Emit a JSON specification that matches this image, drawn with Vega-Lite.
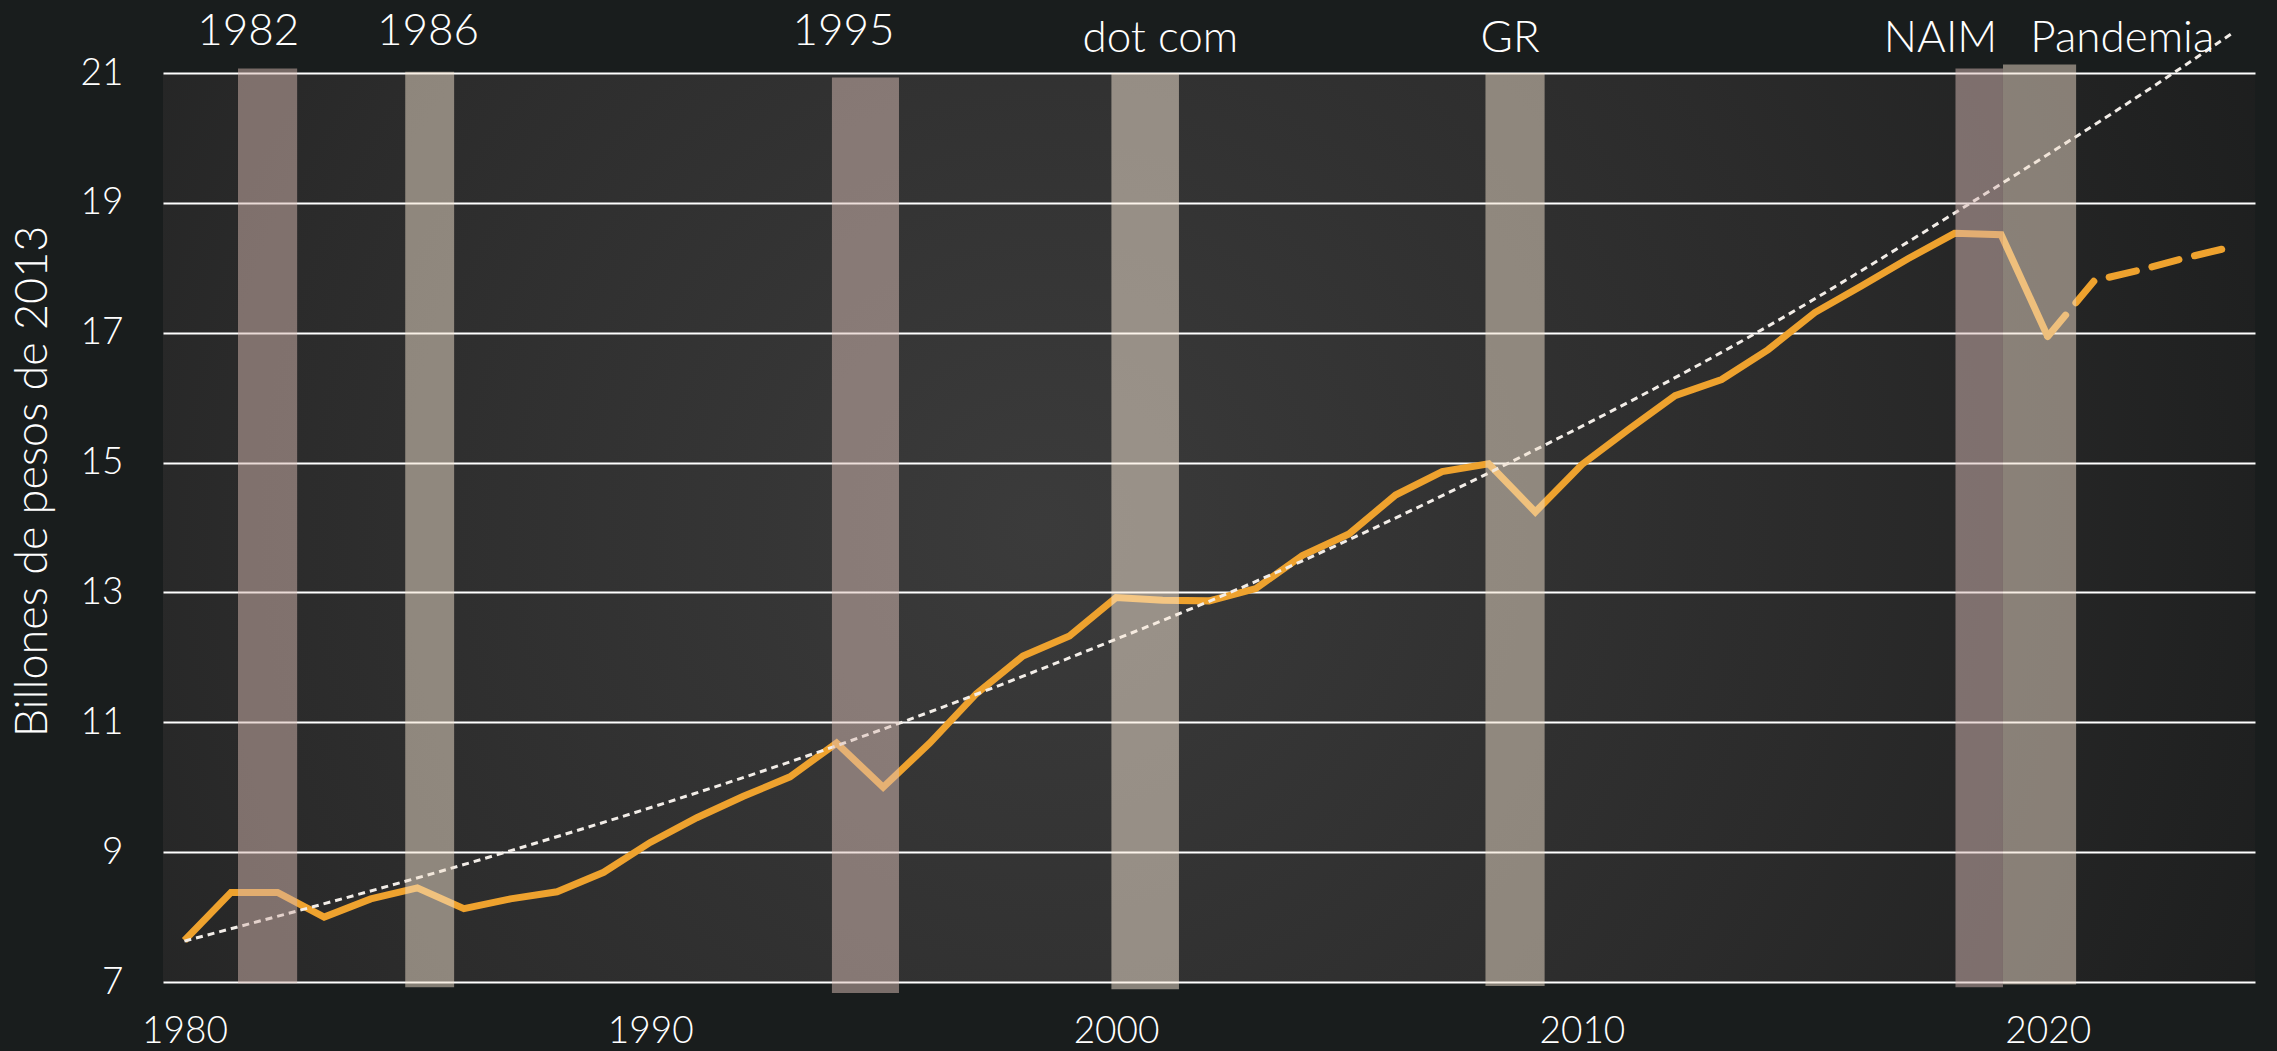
{
  "$schema": "https://vega.github.io/schema/vega-lite/v6.json",
  "width": 2092,
  "height": 909,
  "autosize": {"type": "none"},
  "padding": {"left": 163, "top": 73, "right": 22, "bottom": 69},
  "background": "#191d1d",
  "config": {
    "view": {
      "stroke": null,
      "fill": {
        "gradient": "radial",
        "x1": 0.42, "y1": 0.5, "r1": 0,
        "x2": 0.42, "y2": 0.5, "r2": 0.75,
        "stops": [
          {"offset": 0, "color": "#3b3b3b"},
          {"offset": 0.5, "color": "#2b2b2b"},
          {"offset": 1, "color": "#161818"}
        ]
      }
    },
    "font": "Lato"
  },
  "datasets": {
    "pib": [
      {"anio": 1980, "valor": 7.64, "serie": "observado"},
      {"anio": 1981, "valor": 8.38, "serie": "observado"},
      {"anio": 1982, "valor": 8.38, "serie": "observado"},
      {"anio": 1983, "valor": 8.0, "serie": "observado"},
      {"anio": 1984, "valor": 8.28, "serie": "observado"},
      {"anio": 1985, "valor": 8.45, "serie": "observado"},
      {"anio": 1986, "valor": 8.13, "serie": "observado"},
      {"anio": 1987, "valor": 8.28, "serie": "observado"},
      {"anio": 1988, "valor": 8.39, "serie": "observado"},
      {"anio": 1989, "valor": 8.69, "serie": "observado"},
      {"anio": 1990, "valor": 9.15, "serie": "observado"},
      {"anio": 1991, "valor": 9.53, "serie": "observado"},
      {"anio": 1992, "valor": 9.86, "serie": "observado"},
      {"anio": 1993, "valor": 10.16, "serie": "observado"},
      {"anio": 1994, "valor": 10.68, "serie": "observado"},
      {"anio": 1995, "valor": 10.0, "serie": "observado"},
      {"anio": 1996, "valor": 10.68, "serie": "observado"},
      {"anio": 1997, "valor": 11.44, "serie": "observado"},
      {"anio": 1998, "valor": 12.02, "serie": "observado"},
      {"anio": 1999, "valor": 12.33, "serie": "observado"},
      {"anio": 2000, "valor": 12.92, "serie": "observado"},
      {"anio": 2001, "valor": 12.88, "serie": "observado"},
      {"anio": 2002, "valor": 12.87, "serie": "observado"},
      {"anio": 2003, "valor": 13.06, "serie": "observado"},
      {"anio": 2004, "valor": 13.57, "serie": "observado"},
      {"anio": 2005, "valor": 13.9, "serie": "observado"},
      {"anio": 2006, "valor": 14.5, "serie": "observado"},
      {"anio": 2007, "valor": 14.86, "serie": "observado"},
      {"anio": 2008, "valor": 14.98, "serie": "observado"},
      {"anio": 2009, "valor": 14.24, "serie": "observado"},
      {"anio": 2010, "valor": 14.97, "serie": "observado"},
      {"anio": 2011, "valor": 15.51, "serie": "observado"},
      {"anio": 2012, "valor": 16.03, "serie": "observado"},
      {"anio": 2013, "valor": 16.28, "serie": "observado"},
      {"anio": 2014, "valor": 16.74, "serie": "observado"},
      {"anio": 2015, "valor": 17.31, "serie": "observado"},
      {"anio": 2016, "valor": 17.72, "serie": "observado"},
      {"anio": 2017, "valor": 18.14, "serie": "observado"},
      {"anio": 2018, "valor": 18.53, "serie": "observado"},
      {"anio": 2019, "valor": 18.51, "serie": "observado"},
      {"anio": 2020, "valor": 16.94, "serie": "observado"},
      {"anio": 2020, "valor": 16.94, "serie": "pronostico"},
      {"anio": 2021, "valor": 17.8, "serie": "pronostico"},
      {"anio": 2022, "valor": 17.97, "serie": "pronostico"},
      {"anio": 2023, "valor": 18.16, "serie": "pronostico"},
      {"anio": 2024, "valor": 18.33, "serie": "pronostico"}
    ],
    "tendencia": [
      {"anio": 1980, "valor": 7.63},
      {"anio": 1986.9, "valor": 9.0},
      {"anio": 1995.4, "valor": 11.0},
      {"anio": 2000, "valor": 12.28},
      {"anio": 2002.45, "valor": 13.0},
      {"anio": 2008.45, "valor": 15.0},
      {"anio": 2013.75, "valor": 17.0},
      {"anio": 2018.35, "valor": 19.0},
      {"anio": 2022.7, "valor": 21.0},
      {"anio": 2024, "valor": 21.63}
    ],
    "recesiones": [
      {"evento": "1982", "inicio": 1981.15, "fin": 1982.42, "piso": 6.98, "techo": 21.07, "etiqueta_x": 1981.37, "grupo": "alto"},
      {"evento": "1986", "inicio": 1984.74, "fin": 1985.79, "piso": 6.92, "techo": 21.02, "etiqueta_x": 1985.23, "grupo": "alto"},
      {"evento": "1995", "inicio": 1993.9, "fin": 1995.34, "piso": 6.83, "techo": 20.93, "etiqueta_x": 1994.15, "grupo": "alto"},
      {"evento": "dot com", "inicio": 1999.9, "fin": 2001.35, "piso": 6.89, "techo": 21.0, "etiqueta_x": 2000.95, "grupo": "bajo"},
      {"evento": "GR", "inicio": 2007.93, "fin": 2009.2, "piso": 6.94, "techo": 21.0, "etiqueta_x": 2008.46, "grupo": "bajo"},
      {"evento": "NAIM", "inicio": 2018.02, "fin": 2019.04, "piso": 6.92, "techo": 21.07, "etiqueta_x": 2017.7, "grupo": "bajo"},
      {"evento": "Pandemia", "inicio": 2019.04, "fin": 2020.61, "piso": 6.96, "techo": 21.13, "etiqueta_x": 2021.6, "grupo": "bajo"}
    ]
  },
  "layer": [
    {
      "data": {"name": "pib"},
      "transform": [{"filter": "datum.serie == 'observado'"}],
      "mark": {"type": "line", "color": "#eea22e", "strokeWidth": 7},
      "encoding": {
        "x": {
          "field": "anio", "type": "quantitative",
          "scale": {"domain": [1979.54, 2024.45], "nice": false, "zero": false},
          "axis": {
            "values": [1980, 1990, 2000, 2010, 2020], "format": "d", "title": null,
            "grid": false, "domain": false, "ticks": false,
            "labelFontSize": 37, "labelColor": "#ffffff", "labelFont": "Lato", "labelFontWeight": 300,
            "labelPadding": 31, "labelFlush": false
          }
        },
        "y": {
          "field": "valor", "type": "quantitative",
          "scale": {"domain": [7, 21], "nice": false, "zero": false},
          "axis": {
            "values": [7, 9, 11, 13, 15, 17, 19, 21], "format": "d",
            "title": "Billones de pesos de 2013",
            "titleFontSize": 45, "titleColor": "#ffffff", "titleFont": "Lato", "titleFontWeight": 300,
            "titleAngle": -90, "titleBaseline": "middle", "titleAlign": "center",
            "titleX": -131, "titleY": 408,
            "grid": true, "gridColor": "#ffffff", "gridWidth": 2, "gridOpacity": 1,
            "domain": false, "ticks": false,
            "labelFontSize": 37, "labelColor": "#ffffff", "labelFont": "Lato", "labelFontWeight": 300,
            "labelPadding": 40
          }
        }
      }
    },
    {
      "data": {"name": "pib"},
      "transform": [{"filter": "datum.serie == 'pronostico'"}],
      "mark": {"type": "line", "color": "#eea22e", "strokeWidth": 7, "strokeDash": [28, 16], "strokeCap": "round"},
      "encoding": {
        "x": {"field": "anio", "type": "quantitative"},
        "y": {"field": "valor", "type": "quantitative"}
      }
    },
    {
      "data": {"name": "tendencia"},
      "mark": {"type": "line", "color": "#f2ede8", "strokeWidth": 3, "strokeDash": [7, 5], "interpolate": "monotone"},
      "encoding": {
        "x": {"field": "anio", "type": "quantitative"},
        "y": {"field": "valor", "type": "quantitative"}
      }
    },
    {
      "data": {"name": "recesiones"},
      "mark": {"type": "rect", "opacity": 0.5},
      "encoding": {
        "x": {"field": "inicio", "type": "quantitative"},
        "x2": {"field": "fin"},
        "y": {"field": "piso", "type": "quantitative"},
        "y2": {"field": "techo"},
        "color": {
          "field": "evento", "type": "nominal", "legend": null,
          "scale": {
            "domain": ["1982", "1986", "1995", "dot com", "GR", "NAIM", "Pandemia"],
            "range": ["#d6b8b0", "#f2e2ce", "#dcc0b8", "#f9e9d7", "#f0e0cc", "#d7b9b5", "#eddcc9"]
          }
        }
      }
    },
    {
      "data": {"name": "recesiones"},
      "transform": [{"filter": "datum.grupo == 'alto'"}],
      "mark": {"type": "text", "color": "#ffffff", "fontSize": 44, "font": "Lato", "fontWeight": 300, "baseline": "alphabetic", "align": "center"},
      "encoding": {
        "x": {"field": "etiqueta_x", "type": "quantitative"},
        "y": {"datum": 21.43},
        "text": {"field": "evento"}
      }
    },
    {
      "data": {"name": "recesiones"},
      "transform": [{"filter": "datum.grupo == 'bajo'"}],
      "mark": {"type": "text", "color": "#ffffff", "fontSize": 44, "font": "Lato", "fontWeight": 300, "baseline": "alphabetic", "align": "center"},
      "encoding": {
        "x": {"field": "etiqueta_x", "type": "quantitative"},
        "y": {"datum": 21.32},
        "text": {"field": "evento"}
      }
    }
  ]
}
